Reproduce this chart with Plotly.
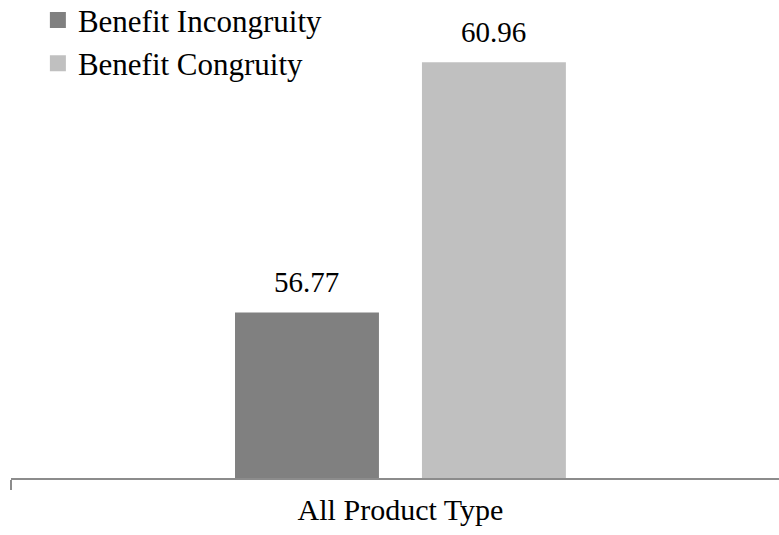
import plotly.graph_objects as go

categories = ["All Product Type"]
series_names = ["Benefit Incongruity", "Benefit Congruity"]
incongruity = [56.77]
congruity = [60.96]
colors = ["#808080", "#C0C0C0"]

FONT = "Liberation Serif, Times New Roman, serif"
BARGAP = 0.52
BARGROUPGAP = 0.23

series = [incongruity, congruity]
n = len(series)
slot = (1 - BARGAP) / n

fig = go.Figure()
annotations = []
for i, (name, vals, col) in enumerate(zip(series_names, series, colors)):
    fig.add_trace(go.Bar(
        x=categories, y=vals, name=name, showlegend=False,
        marker=dict(color=col, line=dict(width=0)),
        cliponaxis=False, hoverinfo="skip",
    ))
    # legend-only square swatch
    fig.add_trace(go.Scatter(
        x=[None], y=[None], mode="markers", name=name,
        marker=dict(symbol="square", size=16, color=col),
        showlegend=True,
    ))
    offset = -(1 - BARGAP) / 2 + slot * (i + 0.5)
    for ci, v in enumerate(vals):
        annotations.append(dict(
            x=ci + offset, y=v, xref="x", yref="y",
            text=f"{v:.2f}", showarrow=False,
            xanchor="center", yanchor="bottom", yshift=12,
            font=dict(family=FONT, size=29, color="black"),
        ))

fig.update_layout(
    width=779, height=535,
    margin=dict(l=11, r=0, t=0, b=57, autoexpand=False),
    paper_bgcolor="white", plot_bgcolor="white",
    barmode="group", bargap=BARGAP, bargroupgap=BARGROUPGAP,
    font=dict(family=FONT, color="black"),
    showlegend=True,
    annotations=annotations,
    legend=dict(
        x=0.035, y=1.014, xanchor="left", yanchor="top",
        font=dict(family=FONT, size=31, color="black"),
        bgcolor="rgba(0,0,0,0)", tracegroupgap=0,
        traceorder="normal", itemsizing="trace",
    ),
    xaxis=dict(
        range=[-0.5, 0.486], showline=True, linecolor="#8C8C8C", linewidth=2,
        ticks="outside", tickson="boundaries", ticklen=10, tickwidth=2, tickcolor="#8C8C8C",
        tickfont=dict(family=FONT, size=30, color="black"), showgrid=False, zeroline=False,
        ticklabelstandoff=4,
    ),
    yaxis=dict(range=[54, 62], visible=False, showgrid=False, zeroline=False),
)

fig.write_html("out.html")
